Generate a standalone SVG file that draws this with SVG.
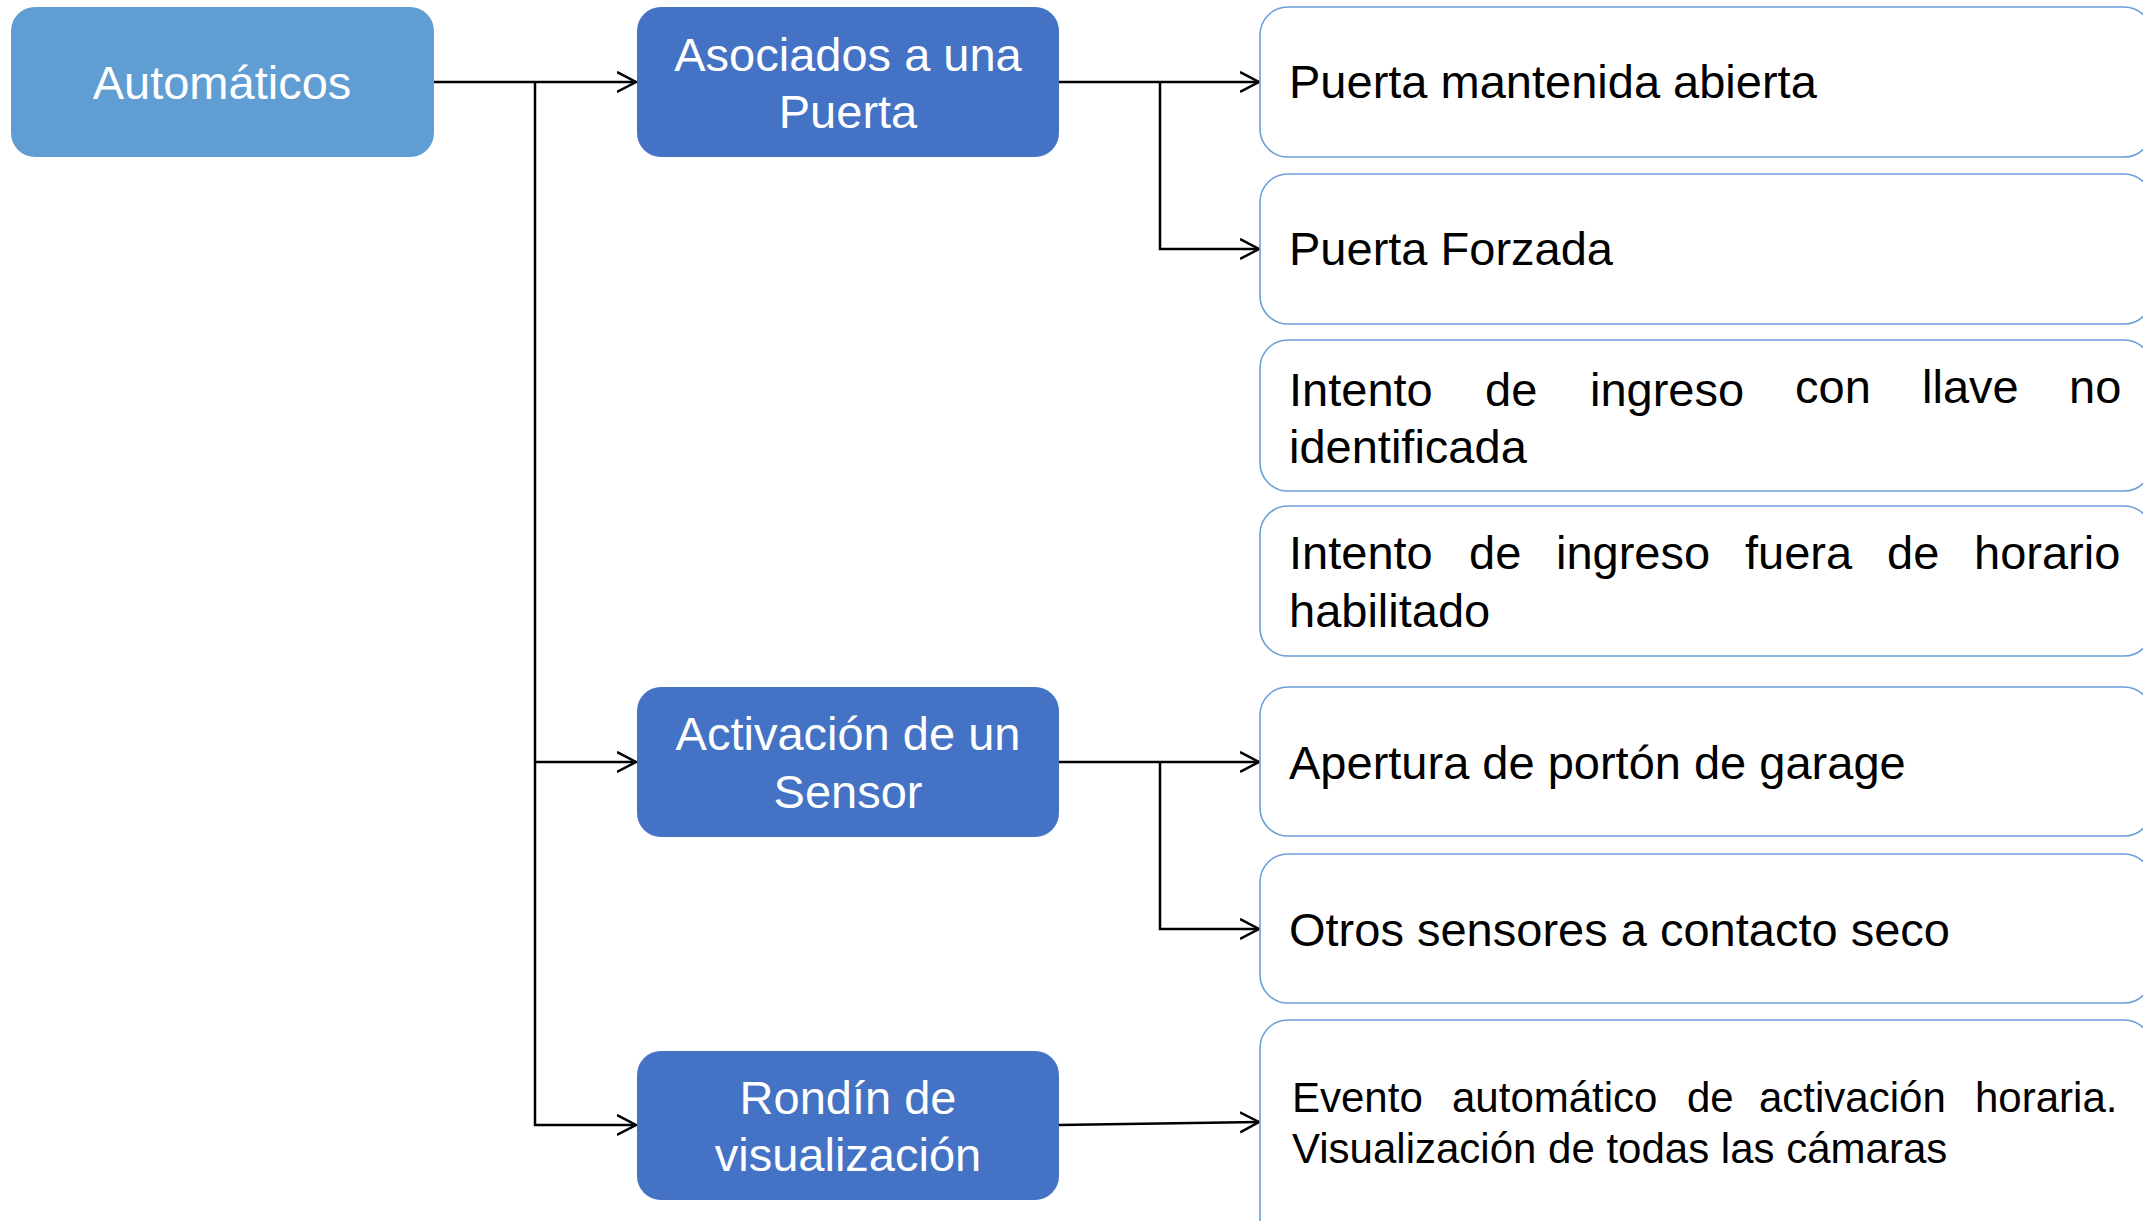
<svg xmlns="http://www.w3.org/2000/svg" width="2143" height="1221" viewBox="0 0 2143 1221">
<style>
.root{fill:#5F9DD3;}
.mid{fill:#4472C4;}
.leaf{fill:#FFFFFF;stroke:#6A9FD8;stroke-width:1.6;}
.wt{font-family:"Liberation Sans",Arial,sans-serif;font-size:47px;fill:#FFFFFF;text-anchor:middle;}
.bt{font-family:"Liberation Sans",Arial,sans-serif;font-size:47px;fill:#000000;}
.st{font-family:"Liberation Sans",Arial,sans-serif;font-size:42px;fill:#000000;}
.conn{fill:none;stroke:#000000;stroke-width:2.5;}
</style>
<defs>
<marker id="arr" markerUnits="userSpaceOnUse" markerWidth="24" markerHeight="26" refX="19" refY="11" orient="auto" viewBox="0 0 24 26">
<path d="M0,1 L19,11 L0,21" fill="none" stroke="#000000" stroke-width="2.5"/>
</marker>
</defs>
<rect width="2143" height="1221" fill="#FFFFFF"/>
<g id="connectors">
<path class="conn" d="M434,82 H636" marker-end="url(#arr)"/>
<path class="conn" d="M535,82 V1125 H636" marker-end="url(#arr)"/>
<path class="conn" d="M535,762 H636" marker-end="url(#arr)"/>
<path class="conn" d="M1059,82 H1259" marker-end="url(#arr)"/>
<path class="conn" d="M1160,82 V249 H1259" marker-end="url(#arr)"/>
<path class="conn" d="M1059,762 H1259" marker-end="url(#arr)"/>
<path class="conn" d="M1160,762 V929 H1259" marker-end="url(#arr)"/>
<path class="conn" d="M1059,1125 L1259,1122" marker-end="url(#arr)"/>
</g>
<g id="automaticos">
<rect class="root" x="11" y="7" width="423" height="150" rx="24"/>
<text class="wt" x="222" y="99">Automáticos</text>
</g>
<g id="asociados">
<rect class="mid" x="637" y="7" width="422" height="150" rx="24"/>
<text class="wt" x="848" y="71">Asociados a una</text>
<text class="wt" x="848" y="128">Puerta</text>
</g>
<g id="activacion">
<rect class="mid" x="637" y="687" width="422" height="150" rx="24"/>
<text class="wt" x="848" y="750">Activación de un</text>
<text class="wt" x="848" y="808">Sensor</text>
</g>
<g id="rondin">
<rect class="mid" x="637" y="1051" width="422" height="149" rx="24"/>
<text class="wt" x="848" y="1114">Rondín de</text>
<text class="wt" x="848" y="1171">visualización</text>
</g>
<g id="puerta-mantenida">
<rect class="leaf" x="1260" y="7" width="892" height="150" rx="28"/>
<text class="bt" x="1289" y="98">Puerta mantenida abierta</text>
</g>
<g id="puerta-forzada">
<rect class="leaf" x="1260" y="174" width="892" height="150" rx="28"/>
<text class="bt" x="1289" y="265">Puerta Forzada</text>
</g>
<g id="intento-llave">
<rect class="leaf" x="1260" y="340" width="892" height="151" rx="28"/>
<text class="bt" y="406"><tspan x="1289">Intento</tspan><tspan x="1485">de</tspan><tspan x="1590">ingreso</tspan><tspan x="1795" y="403">con</tspan><tspan x="1922" y="403">llave</tspan><tspan x="2069" y="403">no</tspan></text>
<text class="bt" x="1289" y="463">identificada</text>
</g>
<g id="intento-horario">
<rect class="leaf" x="1260" y="506" width="892" height="150" rx="28"/>
<text class="bt" y="569"><tspan x="1289">Intento</tspan><tspan x="1469">de</tspan><tspan x="1556">ingreso</tspan><tspan x="1745">fuera</tspan><tspan x="1887">de</tspan><tspan x="1974">horario</tspan></text>
<text class="bt" x="1289" y="627">habilitado</text>
</g>
<g id="apertura">
<rect class="leaf" x="1260" y="687" width="892" height="149" rx="28"/>
<text class="bt" x="1289" y="779">Apertura de portón de garage</text>
</g>
<g id="otros-sensores">
<rect class="leaf" x="1260" y="854" width="892" height="149" rx="28"/>
<text class="bt" x="1289" y="946">Otros sensores a contacto seco</text>
</g>
<g id="evento">
<rect class="leaf" x="1260" y="1020" width="892" height="230" rx="28"/>
<text class="st" y="1112"><tspan x="1292">Evento</tspan><tspan x="1452">automático</tspan><tspan x="1687">de</tspan><tspan x="1759">activación</tspan><tspan x="1975">horaria.</tspan></text>
<text class="st" x="1292" y="1163">Visualización de todas las cámaras</text>
</g>
</svg>
